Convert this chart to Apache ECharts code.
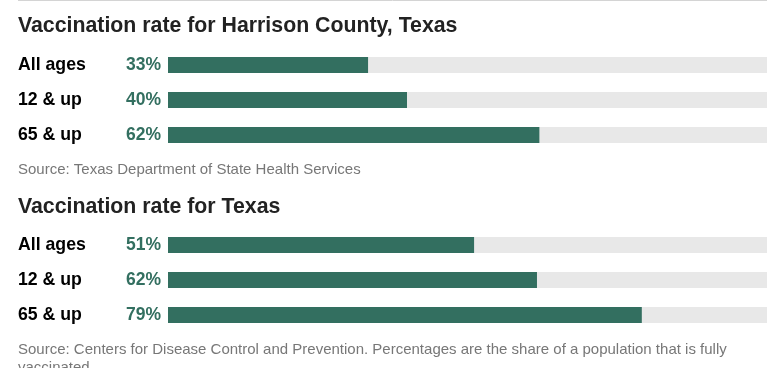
<!DOCTYPE html>
<html>
<head>
<meta charset="utf-8">
<script src="https://cdn.jsdelivr.net/npm/echarts@6/dist/echarts.min.js"></script>
<style>
html,body{margin:0;padding:0;background:#fff;}
#c{width:767px;height:368px;}
</style>
</head>
<body>
<div id="c"></div>
<script>
const categories = ['All ages', '12 & up', '65 & up'];
const harrisonValues = [33.4, 39.9, 62.0];
const texasValues = [51.1, 61.6, 79.1];
const title1 = 'Vaccination rate for Harrison County, Texas';
const title2 = 'Vaccination rate for Texas';
const source1 = 'Source: Texas Department of State Health Services';
const source2 = 'Source: Centers for Disease Control and Prevention. Percentages are the share of a population that is fully vaccinated.';

const FONT = '"Liberation Sans", Arial, Helvetica, sans-serif';
const GREEN = '#336f60';
const TRACK = '#e8e8e8';

const chart = echarts.init(document.getElementById('c'), null, {renderer: 'canvas'});

function yAxis(idx) {
  return {
    type: 'category', gridIndex: idx, data: categories, inverse: true,
    axisLine: {show: false}, axisTick: {show: false},
    axisLabel: {
      align: 'left', margin: 150, color: '#000', fontFamily: FONT,
      fontWeight: 'bold', fontSize: 17.7
    }
  };
}
function xAxis(idx) {
  return {
    type: 'value', gridIndex: idx, min: 0, max: 100,
    show: false
  };
}
function series(idx, vals) {
  return {
    type: 'bar', xAxisIndex: idx, yAxisIndex: idx, data: vals,
    barWidth: 16, itemStyle: {color: GREEN},
    showBackground: true, backgroundStyle: {color: TRACK},
    label: {
      show: true, position: 'left', distance: 7,
      formatter: p => Math.round(p.value) + '%',
      color: GREEN, fontFamily: FONT, fontWeight: 'bold', fontSize: 17.5
    },
    silent: true, animation: false
  };
}

chart.setOption({
  animation: false,
  title: [
    {text: title1, left: 18, top: 14, padding: 0,
     textStyle: {fontFamily: FONT, fontWeight: 'bold', fontSize: 21.3, lineHeight: 24, color: '#222'}},
    {text: source1, left: 18, top: 161, padding: 0,
     textStyle: {fontFamily: FONT, fontWeight: 'normal', fontSize: 15, lineHeight: 18, color: '#777'}},
    {text: title2, left: 18, top: 195, padding: 0,
     textStyle: {fontFamily: FONT, fontWeight: 'bold', fontSize: 21.3, lineHeight: 24, color: '#222'}},
    {text: source2, left: 18, top: 341, padding: 0,
     textStyle: {fontFamily: FONT, fontWeight: 'normal', fontSize: 15, lineHeight: 18, color: '#777',
                 width: 730, overflow: 'break'}}
  ],
  graphic: [
    {type: 'line', shape: {x1: 18, y1: 0.5, x2: 767, y2: 0.5}, style: {stroke: '#d4d4d4', lineWidth: 1}}
  ],
  grid: [
    {left: 168, right: 0, top: 47.5, height: 105},
    {left: 168, right: 0, top: 227.5, height: 105}
  ],
  xAxis: [xAxis(0), xAxis(1)],
  yAxis: [yAxis(0), yAxis(1)],
  series: [series(0, harrisonValues), series(1, texasValues)]
});
</script>
</body>
</html>
